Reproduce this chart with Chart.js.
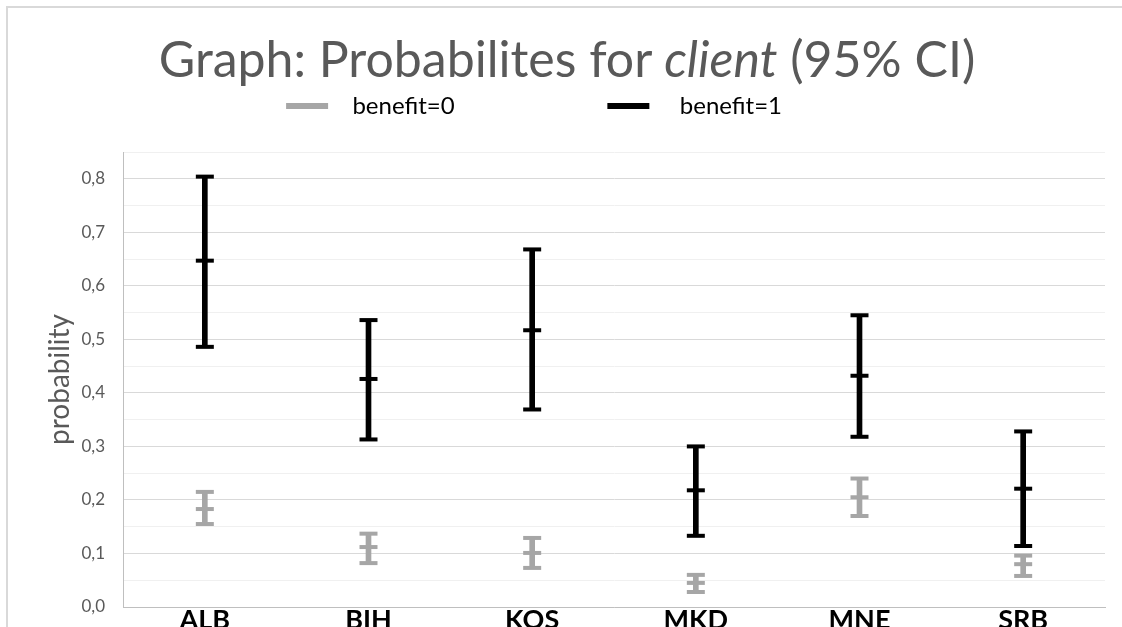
<!DOCTYPE html>
<html>
<head>
<meta charset="utf-8">
<script src="https://cdn.jsdelivr.net/npm/chart.js@4.4.1/dist/chart.umd.min.js"></script>
<style>
  html, body { margin: 0; padding: 0; background: #fff; overflow: hidden; }
  #frame { position: absolute; left: 6px; top: 6px; width: 1200px; height: 700px; border: 2px solid #d9d9d9; box-sizing: border-box; }
  #c { position: absolute; left: 0; top: 0; }
  #title { position: absolute; left: 12px; width: 1110px; top: 33px; text-align: center; white-space: nowrap;
           font-family: Lato, sans-serif; font-size: 50px; line-height: 1; color: #595959; }
</style>
</head>
<body>
<div id="frame"></div>
<canvas id="c" width="1122" height="627"></canvas>
<div id="title">Graph: Probabilites for <i>client</i> (95% CI)</div>
<script>
// countries on the x axis
var countries = ['ALB', 'BIH', 'KOS', 'MKD', 'MNE', 'SRB'];

// benefit=0 : estimate and 95% CI
var b0Mid  = [0.183, 0.112, 0.101, 0.045, 0.205, 0.080];
var b0Low  = [0.155, 0.082, 0.073, 0.028, 0.170, 0.058];
var b0High = [0.215, 0.137, 0.129, 0.060, 0.240, 0.096];

// benefit=1 : estimate and 95% CI
var b1Mid  = [0.647, 0.426, 0.517, 0.218, 0.432, 0.221];
var b1Low  = [0.486, 0.313, 0.369, 0.133, 0.318, 0.114];
var b1High = [0.804, 0.536, 0.668, 0.300, 0.545, 0.328];

var yTicks = ['0,0', '0,1', '0,2', '0,3', '0,4', '0,5', '0,6', '0,7', '0,8'];

var GREY = '#a6a6a6';
var BLACK = '#000000';
var TXT = '#595959';

function ranges(lo, hi) {
    return lo.map(function(v, i) { return [v, hi[i]]; });
}

// one floating bar for the whisker + three point-marks (low cap, estimate, high cap)
function errorSeries(label, color, lo, mid, hi) {
    var marks = function(data, r) {
        return {
            type: 'line', label: label, data: data, showLine: false,
            pointStyle: 'line', pointRadius: r, pointHoverRadius: r,
            borderColor: color, borderWidth: 4, backgroundColor: color
        };
    };
    return [
        { type: 'bar', label: label, data: ranges(lo, hi), backgroundColor: color,
          barThickness: 5, grouped: false, borderWidth: 0 },
        marks(lo, 9), marks(mid, 9), marks(hi, 9)
    ];
}

var datasets = errorSeries('benefit=0', GREY, b0Low, b0Mid, b0High)
    .concat(errorSeries('benefit=1', BLACK, b1Low, b1Mid, b1High));

var ctx = document.getElementById('c').getContext('2d');
var chart = new Chart(ctx, {
    type: 'bar',
    data: { labels: countries, datasets: datasets },
    options: {
        responsive: false,
        animation: false,
        layout: { padding: { top: 58, right: 17, left: 0, bottom: 0 } },
        plugins: {
            tooltip: { enabled: false },
            legend: {
                position: 'top',
                labels: {
                    boxWidth: 42, boxHeight: 6, padding: 36,
                    color: TXT, font: { family: 'Lato', size: 24 },
                    generateLabels: function(ch) {
                        return [
                            { text: '  benefit=0' + ' '.repeat(19), fillStyle: GREY, strokeStyle: GREY, lineWidth: 0, datasetIndex: 0 },
                            { text: '   benefit=1' + ' '.repeat(6), fillStyle: BLACK, strokeStyle: BLACK, lineWidth: 0, datasetIndex: 4 }
                        ];
                    }
                },
                onClick: function() {}
            }
        },
        scales: {
            // empty axis on top, only used as a gap under the legend
            gap: {
                type: 'category', position: 'top', display: true,
                grid: { display: false }, border: { display: false },
                ticks: { display: false },
                afterFit: function(s) { s.height = 24; }
            },
            x: {
                grid: { display: false, drawTicks: false },
                border: { display: true, color: '#bfbfbf', width: 1 },
                ticks: { color: '#000', font: { family: 'Lato', size: 27, weight: 'bold', lineHeight: 1 }, padding: 0 },
                afterFit: function(s) { s.height = 20; }
            },
            y: {
                min: 0, max: 0.85,
                grid: {
                    drawTicks: false,
                    color: function(c) { return c.index % 2 === 0 ? '#d9d9d9' : '#f0f0f0'; },
                    lineWidth: 1
                },
                border: { display: true, color: '#bfbfbf', width: 1 },
                ticks: {
                    stepSize: 0.05, padding: 18, color: TXT,
                    font: { family: 'Lato', size: 17 },
                    callback: function(v, i) { return i % 2 === 0 ? yTicks[i / 2] : ''; }
                },
                title: { display: true, text: 'probability', color: TXT,
                         font: { family: 'Lato', size: 28 }, padding: { top: 43, bottom: 0 } },
                afterFit: function(s) { s.width = 123; s.paddingTop = 0; s.paddingBottom = 0; }
            }
        }
    }
});
</script>
</body>
</html>
